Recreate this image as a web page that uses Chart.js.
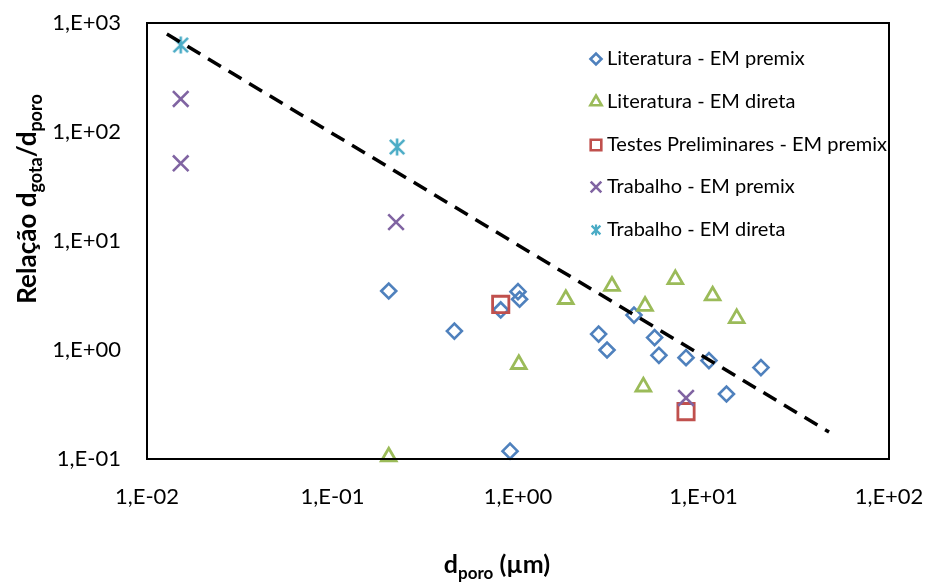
<!DOCTYPE html>
<html>
<head>
<meta charset="utf-8">
<script src="https://cdn.jsdelivr.net/npm/chart.js@4/dist/chart.umd.min.js"></script>
<style>
html,body{margin:0;padding:0;background:#fff;}
#wrap{width:927px;height:582px;position:relative;}
</style>
</head>
<body>
<div id="wrap"><canvas id="c" width="927" height="582"></canvas></div>
<script>
// ---- data ----
const seriesNames = ["Literatura - EM premix","Literatura - EM direta","Testes Preliminares - EM premix","Trabalho - EM premix","Trabalho - EM direta"];

const litPremixX = [0.201, 0.454, 0.807, 1.00, 1.02, 0.906, 2.72, 3.02, 4.22, 5.45, 5.75, 8.05, 10.7, 13.3, 20.4];
const litPremixY = [3.48, 1.49, 2.33, 3.43, 2.92, 0.118, 1.40, 1.00, 2.09, 1.30, 0.893, 0.85, 0.80, 0.395, 0.69];

const litDiretaX = [0.201, 1.01, 1.81, 3.21, 4.84, 7.05, 11.2, 15.1, 4.74];
const litDiretaY = [0.105, 0.74, 2.92, 3.86, 2.53, 4.45, 3.15, 1.95, 0.46];

const testesX = [0.807, 8.05];
const testesY = [2.62, 0.272];

const trabPremixX = [0.0152, 0.0152, 0.22, 8.05];
const trabPremixY = [201, 51.6, 14.9, 0.363];

const trabDiretaX = [0.0152, 0.223];
const trabDiretaY = [628, 72.8];

const trendX = [0.0128, 47.5];
const trendY = [793, 0.177];

const xTicks = [0.01, 0.1, 1, 10, 100];
const yTicks = [0.1, 1, 10, 100, 1000];

// ---- helpers ----
function pts(xs, ys){ return xs.map((x,i)=>({x:x, y:ys[i]})); }
function sciLabel(v){
  const e = Math.round(Math.log10(v));
  const s = e < 0 ? "-" : "+";
  const a = Math.abs(e);
  return "1,E" + s + (a < 10 ? "0" + a : "" + a);
}
function starCanvas(size, lw, color){
  const c = document.createElement('canvas');
  c.width = size; c.height = size;
  const g = c.getContext('2d');
  g.strokeStyle = color; g.lineWidth = lw; g.lineCap = 'butt';
  const m = lw/2 + 0.5, s = size - m;
  g.beginPath();
  g.moveTo(m, m); g.lineTo(s, s);
  g.moveTo(s, m); g.lineTo(m, s);
  g.moveTo(size/2, 0.5); g.lineTo(size/2, size-0.5);
  g.stroke();
  return c;
}
function noOverhang(s){ s.paddingTop = 0; s.paddingBottom = 0; s.paddingLeft = 0; s.paddingRight = 0; }

const colBlue = '#4F81BD', colGreen = '#9BBB59', colRed = '#C0504D', colPurple = '#8064A2', colCyan = '#4BACC6';
const starBig = starCanvas(18, 2.6, colCyan);
const starSmall = starCanvas(12, 2.2, colCyan);

const FONT = 'Lato, "Open Sans", sans-serif';

const framePlugin = {
  id: 'frame',
  afterDatasetsDraw(chart){
    const a = chart.chartArea, ctx = chart.ctx;
    ctx.save();
    ctx.strokeStyle = '#000'; ctx.lineWidth = 2;
    ctx.strokeRect(a.left, a.top, a.right - a.left, a.bottom - a.top);
    ctx.restore();
  }
};

function drawParts(ctx, parts, cx, baseY, mainFont, subFont, subDrop){
  let total = 0;
  parts.forEach(p => { ctx.font = p.sub ? subFont : mainFont; p.w = ctx.measureText(p.t).width; total += p.w; });
  let x = cx - total/2;
  ctx.textBaseline = 'alphabetic'; ctx.textAlign = 'left';
  parts.forEach(p => {
    ctx.font = p.sub ? subFont : mainFont;
    ctx.fillText(p.t, x, baseY + (p.sub ? subDrop : 0));
    x += p.w;
  });
}

const titlesPlugin = {
  id: 'titles',
  afterDraw(chart){
    const ctx = chart.ctx;
    ctx.save();
    ctx.fillStyle = '#000';
    // x title
    drawParts(ctx, [{t:'d'},{t:'poro',sub:true},{t:' (µm)'}], 497, 573,
      'bold 25px ' + FONT, 'bold 17px ' + FONT, 6);
    // y title
    ctx.translate(36, 199);
    ctx.rotate(-Math.PI/2);
    drawParts(ctx, [{t:'Relação d'},{t:'gota',sub:true},{t:'/d'},{t:'poro',sub:true}], 0, 0,
      'bold 26px ' + FONT, 'bold 18px ' + FONT, 6);
    ctx.restore();
  }
};

const legendPlugin = {
  id: 'customLegend',
  afterDraw(chart){
    const ctx = chart.ctx;
    const rows = [59, 102, 145, 187, 230];
    const styles = [
      {style:'rectRot', radius:5.5, color:colBlue},
      {style:'triangle', radius:6.5, color:colGreen},
      {style:'rect', radius:7.5, color:colRed},
      {style:'crossRot', radius:7.5, color:colPurple},
      {style:starSmall, radius:6, color:colCyan}
    ];
    ctx.save();
    seriesNames.forEach((name, i) => {
      const st = styles[i];
      ctx.strokeStyle = st.color; ctx.fillStyle = 'rgba(0,0,0,0)'; ctx.lineWidth = 2.6;
      Chart.helpers.drawPoint(ctx, {pointStyle: st.style, radius: st.radius, borderWidth: 2.6, rotation: 0}, 596, rows[i]);
      ctx.fillStyle = '#000';
      ctx.font = '20px ' + FONT;
      ctx.textBaseline = 'middle'; ctx.textAlign = 'left';
      ctx.fillText(name, 607, rows[i]);
    });
    ctx.restore();
  }
};

const datasets = [
  {label:'trend', type:'line', data: pts(trendX, trendY), showLine:true, borderColor:'#000', borderWidth:3.5,
   borderDash:[15,9], pointRadius:0, fill:false, order:0},
  {label:seriesNames[4], data: pts(trabDiretaX, trabDiretaY), pointStyle: starBig, pointRadius:9,
   borderColor: colCyan, backgroundColor: colCyan, order:1},
  {label:seriesNames[3], data: pts(trabPremixX, trabPremixY), pointStyle:'crossRot', pointRadius:11, borderWidth:2.6,
   borderColor: colPurple, backgroundColor: colPurple, order:2},
  {label:seriesNames[2], data: pts(testesX, testesY), pointStyle:'rect', pointRadius:11.5, borderWidth:2.8,
   borderColor: colRed, backgroundColor:'rgba(0,0,0,0)', order:3},
  {label:seriesNames[1], data: pts(litDiretaX, litDiretaY), pointStyle:'triangle', pointRadius:8.5, borderWidth:2.8,
   borderColor: colGreen, backgroundColor:'rgba(0,0,0,0)', order:4},
  {label:seriesNames[0], data: pts(litPremixX, litPremixY), pointStyle:'rectRot', pointRadius:7.5, borderWidth:2.6,
   borderColor: colBlue, backgroundColor:'rgba(0,0,0,0)', order:5}
];

new Chart(document.getElementById('c'), {
  type: 'scatter',
  data: { datasets: datasets },
  options: {
    responsive: false,
    animation: false,
    clip: false,
    layout: { padding: { left: 0, top: 23, right: 38, bottom: 0 } },
    plugins: { legend: { display: false }, tooltip: { enabled: false } },
    elements: { point: { hoverRadius: 0 } },
    scales: {
      x: {
        type: 'logarithmic', min: 0.01, max: 100,
        grid: { display: false, drawTicks: false },
        border: { display: false },
        afterBuildTicks: s => { s.ticks = xTicks.map(v => ({value: v})); },
        afterFit: s => { s.height = 123; noOverhang(s); },
        ticks: { color:'#000', font: { family: FONT, size: 22 }, padding: 25, maxRotation: 0, autoSkip: false,
          callback: v => sciLabel(v) }
      },
      y: {
        type: 'logarithmic', min: 0.1, max: 1000,
        grid: { display: false, drawTicks: false },
        border: { display: false },
        afterBuildTicks: s => { s.ticks = yTicks.map(v => ({value: v})); },
        afterFit: s => { s.width = 147; noOverhang(s); },
        ticks: { color:'#000', font: { family: FONT, size: 22 }, padding: 26, autoSkip: false,
          callback: v => sciLabel(v) }
      }
    }
  },
  plugins: [framePlugin, titlesPlugin, legendPlugin]
});
</script>
</body>
</html>
